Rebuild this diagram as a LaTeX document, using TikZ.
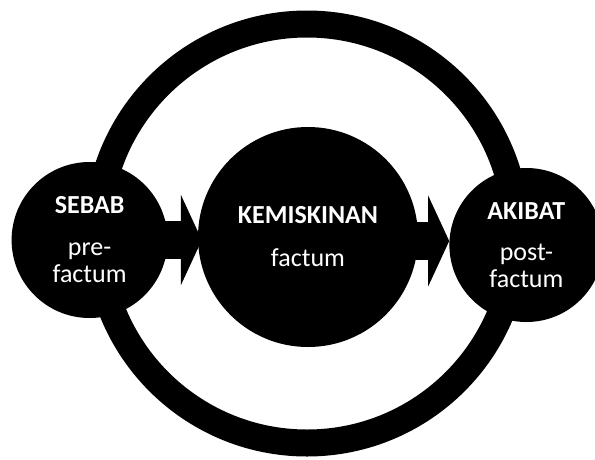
\documentclass[tikz,border=0pt]{standalone}
\usepackage{fontspec}
\setmainfont{Carlito}
\usetikzlibrary{positioning,arrows.meta,backgrounds}

\begin{document}
\begin{tikzpicture}[x=1pt,y=-1pt]
	% Define styles
	\tikzstyle{stage} = [circle, fill=black, text=white, align=center,
	inner sep=0pt, font=\fontsize{26}{27}\selectfont]
	\tikzstyle{ring} = [draw=black, line width=27pt]
	\tikzstyle{bigarrow} = [line width=38pt, -{Triangle[length=21pt,width=90pt]}]
	
	% Page size
	\useasboundingbox (0,0) rectangle (595,459);
	
	% Outer loop
	\coordinate (centre) at (307,233.5);
	\draw [ring] (centre) circle [radius=209.5pt];
	
	% Place nodes
	\node [stage, minimum size=220pt] (kemiskinan) at (308,237) {\textbf{KEMISKINAN}\\[16pt]factum};
	\node [stage, minimum size=156pt, left=30pt of kemiskinan, yshift=-3pt] (sebab) {\textbf{SEBAB}\\[15pt]pre-\\factum};
	\node [stage, minimum size=154pt, right=31pt of kemiskinan, yshift=-8pt] (akibat) {\textbf{AKIBAT}\\[14pt]post-\\factum};
	
	% Draw arrows
	\begin{scope}[on background layer]
		\draw [bigarrow, shorten >=-4pt] (sebab.center) -- (sebab.center -| kemiskinan.west);
		\draw [bigarrow] ([yshift=-4pt]kemiskinan.center) -- ([yshift=-4pt]kemiskinan.center -| akibat.west);
	\end{scope}
\end{tikzpicture}
\end{document}
